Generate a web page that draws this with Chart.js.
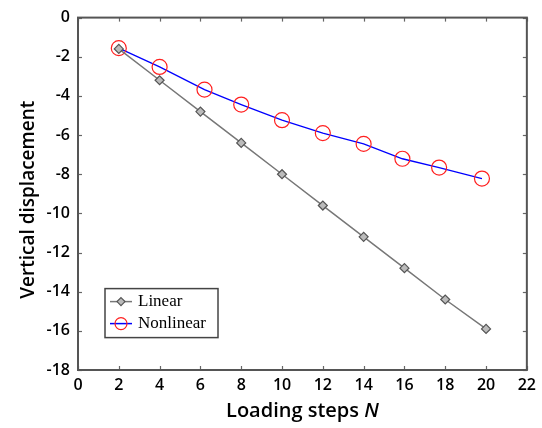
<!DOCTYPE html>
<html><head><meta charset="utf-8">
<script src="https://cdn.jsdelivr.net/npm/chart.js@4"></script>
<style>html,body{margin:0;padding:0;background:#fff}#wrap{width:542px;height:428px}</style>
</head><body><div id="wrap"><canvas id="c" width="542" height="428"></canvas></div>
<script>
const linearSteps = [2, 4, 6, 8, 10, 12, 14, 16, 18, 20];
const linearValues = [-1.6, -3.2, -4.8, -6.4, -8.0, -9.6, -11.2, -12.8, -14.4, -15.9];
const nonlinearSteps = [2, 4, 6.2, 8, 10, 12, 14, 15.9, 17.7, 19.8];
const nonlinearValues = [-1.56, -2.52, -3.68, -4.44, -5.24, -5.9, -6.45, -7.21, -7.66, -8.22];
const xTicks = [0, 2, 4, 6, 8, 10, 12, 14, 16, 18, 20, 22];
const yTicks = [0, -2, -4, -6, -8, -10, -12, -14, -16, -18];
const seriesNames = ['Linear', 'Nonlinear'];
const xTitle = 'Loading steps ';
const xTitleItalic = 'N';
const yTitle = 'Vertical displacement';

const toPts = (xs, ys) => xs.map((x, i) => ({x: x, y: ys[i]}));

const framePlugin = {
  id: 'frame',
  afterDraw(chart) {
    const ctx = chart.ctx, a = chart.chartArea, sx = chart.scales.x, sy = chart.scales.y;
    ctx.save();
    // ticks inward
    ctx.strokeStyle = '#666'; ctx.lineWidth = 1.2;
    const tl = 4;
    xTicks.forEach(v => {
      const px = Math.round(sx.getPixelForValue(v)) + 0.5;
      ctx.beginPath(); ctx.moveTo(px, a.bottom); ctx.lineTo(px, a.bottom - tl); ctx.stroke();
      ctx.beginPath(); ctx.moveTo(px, a.top); ctx.lineTo(px, a.top + tl); ctx.stroke();
    });
    yTicks.forEach(v => {
      const py = Math.round(sy.getPixelForValue(v)) + 0.5;
      ctx.beginPath(); ctx.moveTo(a.left, py); ctx.lineTo(a.left + tl, py); ctx.stroke();
      ctx.beginPath(); ctx.moveTo(a.right, py); ctx.lineTo(a.right - tl, py); ctx.stroke();
    });
    // box
    ctx.strokeStyle = '#555'; ctx.lineWidth = 2;
    ctx.strokeRect(a.left, a.top, a.right - a.left, a.bottom - a.top);
    // x title
    ctx.fillStyle = '#000';
    ctx.textBaseline = 'middle';
    const f1 = '600 20px "Open Sans"', f2 = 'italic 600 20px "Open Sans"';
    ctx.font = f1; const w1 = ctx.measureText(xTitle).width;
    ctx.font = f2; const w2 = ctx.measureText(xTitleItalic).width;
    const cx = (a.left + a.right) / 2, x0 = cx - (w1 + w2) / 2, ty = 411;
    ctx.font = f1; ctx.textAlign = 'left'; ctx.fillText(xTitle, x0, ty);
    ctx.font = f2; ctx.fillText(xTitleItalic, x0 + w1, ty);
    // y title
    ctx.save();
    ctx.translate(29, (a.top + a.bottom) / 2 + 6);
    ctx.rotate(-Math.PI / 2);
    ctx.font = '600 19px "Open Sans"'; ctx.textAlign = 'center';
    ctx.fillText(yTitle, 0, 0);
    ctx.restore();
    // legend
    const lx = a.left + 27, ly = a.top + 271, lw = 113, lh = 49;
    ctx.fillStyle = '#fff'; ctx.fillRect(lx, ly, lw, lh);
    ctx.strokeStyle = '#444'; ctx.lineWidth = 1.5; ctx.strokeRect(lx, ly, lw, lh);
    const rows = [ly + 13, ly + 35];
    // linear sample
    ctx.strokeStyle = '#777'; ctx.lineWidth = 1.5;
    ctx.beginPath(); ctx.moveTo(lx + 5, rows[0]); ctx.lineTo(lx + 27, rows[0]); ctx.stroke();
    ctx.beginPath(); const mx = lx + 16, my = rows[0];
    ctx.moveTo(mx, my - 4); ctx.lineTo(mx + 4, my); ctx.lineTo(mx, my + 4); ctx.lineTo(mx - 4, my); ctx.closePath();
    ctx.fillStyle = '#bbb'; ctx.fill(); ctx.strokeStyle = '#555'; ctx.lineWidth = 1.2; ctx.stroke();
    // nonlinear sample
    ctx.strokeStyle = '#0000ff'; ctx.lineWidth = 1.5;
    ctx.beginPath(); ctx.moveTo(lx + 5, rows[1]); ctx.lineTo(lx + 27, rows[1]); ctx.stroke();
    ctx.strokeStyle = '#ff2020'; ctx.lineWidth = 1.2;
    ctx.beginPath(); ctx.arc(lx + 16, rows[1], 6, 0, Math.PI * 2); ctx.stroke();
    ctx.fillStyle = '#000'; ctx.font = '17px "Liberation Serif"'; ctx.textAlign = 'left';
    ctx.fillText(seriesNames[0], lx + 33, rows[0]);
    ctx.fillText(seriesNames[1], lx + 33, rows[1]);
    ctx.restore();
  }
};

new Chart(document.getElementById('c'), {
  type: 'scatter',
  data: {
    datasets: [
      {
        label: seriesNames[0],
        data: toPts(linearSteps, linearValues),
        showLine: true,
        borderColor: '#777', borderWidth: 1.5,
        pointStyle: 'rectRot', pointRadius: 4.5,
        pointBackgroundColor: '#bbb', pointBorderColor: '#555', pointBorderWidth: 1.2,
        order: 0
      },
      {
        label: seriesNames[1],
        data: toPts(nonlinearSteps, nonlinearValues),
        showLine: true,
        borderColor: '#0000ff', borderWidth: 1.3,
        pointStyle: 'circle', pointRadius: 7.5,
        pointBackgroundColor: 'rgba(0,0,0,0)', pointBorderColor: '#ff2020', pointBorderWidth: 1.2,
        order: 1
      }
    ]
  },
  options: {
    responsive: false, animation: false,
    layout: {padding: {top: 13, right: 12, left: 0, bottom: 0}},
    plugins: {legend: {display: false}, tooltip: {enabled: false}},
    scales: {
      x: {
        type: 'linear', min: 0, max: 22,
        afterBuildTicks: s => { s.ticks = xTicks.map(v => ({value: v})); },
        ticks: {color: '#000', font: {family: '"Open Sans"', size: 16, weight: '600'}, padding: 6, maxRotation: 0},
        grid: {display: false, drawTicks: false},
        border: {display: false},
        afterFit: s => { s.height = 58; }
      },
      y: {
        type: 'linear', min: -18, max: 0,
        afterBuildTicks: s => { s.ticks = yTicks.map(v => ({value: v})); },
        ticks: {color: '#000', font: {family: '"Open Sans"', size: 16, weight: '600'}, padding: 8},
        grid: {display: false, drawTicks: false},
        border: {display: false},
        afterFit: s => { s.width = 78; }
      }
    }
  },
  plugins: [framePlugin]
});
</script></body></html>
